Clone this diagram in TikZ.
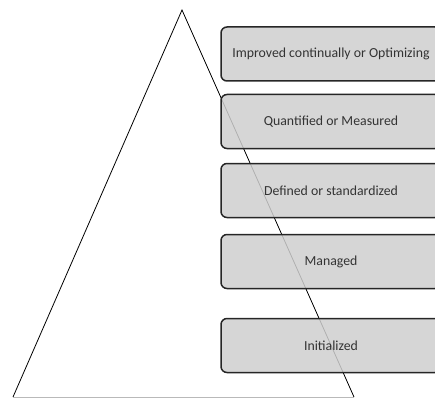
\documentclass[tikz,border=0pt]{standalone}
\usepackage{fontspec}
\setmainfont{Carlito}
\usetikzlibrary{positioning}

\begin{document}
\begin{tikzpicture}[
			x=1pt, y=-1pt,
			node distance={14pt},
			level/.style = {draw=black!85, line width=1.5pt, rounded corners=6pt,
				fill=gray!38, fill opacity=0.85, text opacity=1,
				minimum width=220pt, minimum height=54pt, outer sep=0pt,
				font=\fontsize{13.8}{15}\selectfont, text=black!80},
			side/.style = {draw=black, line width=0.8pt},
			base/.style = {draw=gray!55, line width=0.8pt}
		]
		\useasboundingbox (0,0) rectangle (435,398);
		% The pyramid.
		\coordinate (top) at (182,10);
		\coordinate (bl) at (13,397);
		\coordinate (br) at (354,397);
		\draw[side] (bl) -- (top) -- (br);
		\draw[base] (bl) -- (br);
		% The levels.
		\node[level] (5) at (331,54) {Improved continually or Optimizing};
		\node[level] (4) [below=13.5pt of 5] {Quantified or Measured};
		\node[level] (3) [below=15pt of 4] {Defined or standardized};
		\node[level] (2) [below=17pt of 3] {Managed};
		\node[level] (1) [below=30pt of 2] {Initialized};
\end{tikzpicture}
\end{document}
